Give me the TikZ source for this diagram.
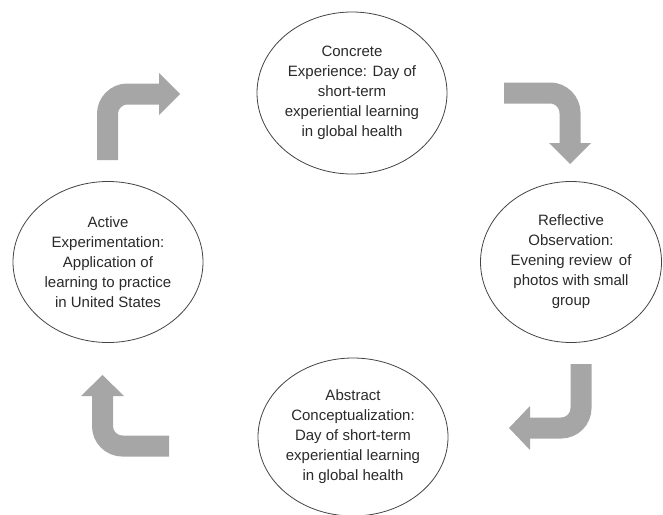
\documentclass[tikz,border=0pt]{standalone}
\usepackage{fontspec}
\setmainfont{Liberation Sans}
\usetikzlibrary{shapes.geometric}
\definecolor{arrgray}{HTML}{A6A6A6}
\definecolor{linegray}{HTML}{444444}
\definecolor{txtgray}{HTML}{2A2A2A}
\tikzset{
  stage/.style={ellipse, draw=linegray, line width=0.8pt, fill=white,
    inner sep=0pt, align=center, text=txtgray,
    font=\fontsize{15}{20}\selectfont},
  shaft/.style={draw=arrgray, line width=21pt, line cap=butt, rounded corners=20pt},
  head/.style={fill=arrgray, draw=none},
}
\begin{document}
\begin{tikzpicture}[x=1pt, y=-1pt]
\useasboundingbox (0,0) rectangle (663,514);
\fill[white] (0,0) rectangle (663,514);
\clip (0,0) rectangle (663,514);

% stages
\node[stage, minimum width=190pt, minimum height=162pt] (ce) at (352,93)
  {Concrete\\Experience: Day of\\short-term\\experiential learning\\in global health};
\node[stage, minimum width=181pt, minimum height=161pt] (ro) at (571,262)
  {Reflective\\Observation:\\Evening review\, of\\photos with small\\group};
\node[stage, minimum width=190pt, minimum height=158pt] (ac) at (353,437)
  {Abstract\\Conceptualization:\\Day of short-term\\experiential learning\\in global health};
\node[stage, minimum width=190pt, minimum height=161pt] (ae) at (108,262)
  {Active\\Experimentation:\\Application of\\learning to practice\\in United States};

% arrow 1: left -> top
\coordinate (a1s) at (107.5,160);
\coordinate (a1c) at (107.5,94);
\coordinate (a1e) at (160,94);
\coordinate (a1t) at (180,94);
\draw[shaft] (a1s) -- (a1c) -- (a1e);
\fill[head] (159,73) -- (a1t) -- (159,115) -- cycle;

% arrow 2: top -> right
\coordinate (a2s) at (504,93);
\coordinate (a2c) at (570,93);
\coordinate (a2e) at (570,144);
\coordinate (a2t) at (570,164);
\draw[shaft] (a2s) -- (a2c) -- (a2e);
\fill[head] (549,143) -- (a2t) -- (591,143) -- cycle;

% arrow 3: right -> bottom
\coordinate (a3s) at (581,364);
\coordinate (a3c) at (581,428);
\coordinate (a3e) at (529,428);
\coordinate (a3t) at (509,428);
\draw[shaft] (a3s) -- (a3c) -- (a3e);
\fill[head] (530,406) -- (a3t) -- (530,450) -- cycle;

% arrow 4: bottom -> left
\coordinate (a4s) at (169,446);
\coordinate (a4c) at (102.5,446);
\coordinate (a4e) at (102.5,395);
\coordinate (a4t) at (102.5,375);
\draw[shaft] (a4s) -- (a4c) -- (a4e);
\fill[head] (81,396) -- (a4t) -- (124,396) -- cycle;
\end{tikzpicture}
\end{document}
